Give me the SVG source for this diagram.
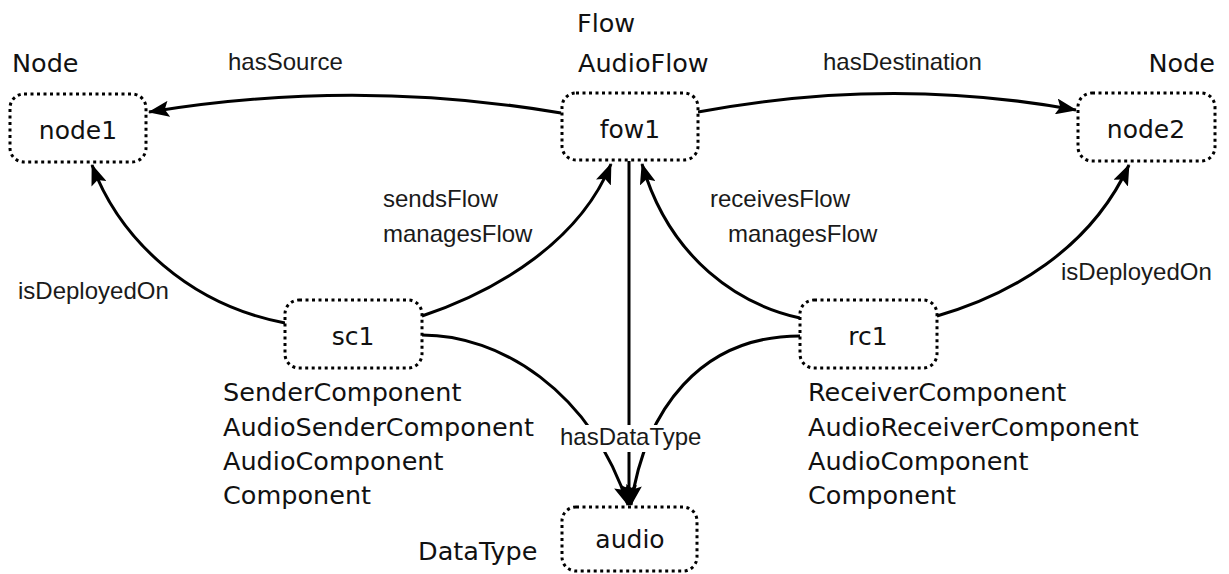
<svg xmlns="http://www.w3.org/2000/svg" width="1229" height="574" viewBox="0 0 1229 574">
<style>
.box{fill:#fff;stroke:#000;stroke-width:3;stroke-dasharray:3 3.5}
.nt{font-family:"DejaVu Sans",Verdana,sans-serif;font-size:25px;fill:#111;text-anchor:middle}
.cl{font-family:"DejaVu Sans",Verdana,sans-serif;font-size:25.5px;fill:#111}
.el{font-family:"Liberation Sans",Arial,sans-serif;font-size:24px;fill:#1a1a1a}
.edge{fill:none;stroke:#000;stroke-width:3}
.arr{marker-end:url(#ah)}
</style>
<defs>
<marker id="ah" markerWidth="22" markerHeight="16" refX="20" refY="8" orient="auto" markerUnits="userSpaceOnUse">
<path d="M0,0 L21,8 L0,16 L4,8 z" fill="#000"/>
</marker>
</defs>
<rect width="1229" height="574" fill="#fff"/>
<g id="connectors">
<path class="edge arr" d="M561,113 Q355,78 149,112"/>
<path class="edge arr" d="M698,112 Q890,76 1076,110"/>
<path class="edge arr" d="M285,323 C190,305 120,240 92,165"/>
<path class="edge arr" d="M422,316 C500,290 580,240 611,164"/>
<path class="edge arr" d="M800,318 C740,305 670,260 642,164"/>
<path class="edge arr" d="M937,316 C1010,295 1090,250 1129,165"/>
<path class="edge arr" d="M629,161 L629,505"/>
<path class="edge arr" d="M422,335 C500,335 590,390 628,505"/>
<path class="edge arr" d="M800,336 C700,336 645,410 631,505"/>
<rect x="557" y="425" width="151" height="27" fill="#fff"/>
<text class="el" x="560" y="445">hasDataType</text>
<text class="el" x="228" y="70">hasSource</text>
<text class="el" x="823" y="70">hasDestination</text>
<text class="el" x="383" y="207">sendsFlow</text>
<text class="el" x="383" y="242">managesFlow</text>
<text class="el" x="710" y="207">receivesFlow</text>
<text class="el" x="728" y="242">managesFlow</text>
<text class="el" x="18" y="299">isDeployedOn</text>
<text class="el" x="1061" y="280">isDeployedOn</text>
</g>
<g id="node1">
<text class="cl" x="12" y="72">Node</text>
<rect class="box" x="10" y="94" width="136" height="68" rx="14"/>
<text class="nt" x="78" y="139">node1</text>
</g>
<g id="fow1">
<text class="cl" x="577" y="32">Flow</text>
<text class="cl" x="578" y="72">AudioFlow</text>
<rect class="box" x="562" y="93" width="136" height="67" rx="14"/>
<text class="nt" x="630" y="138">fow1</text>
</g>
<g id="node2">
<text class="cl" x="1215" y="72" text-anchor="end">Node</text>
<rect class="box" x="1078" y="93" width="137" height="68" rx="14"/>
<text class="nt" x="1146" y="138">node2</text>
</g>
<g id="sc1">
<rect class="box" x="285" y="300" width="137" height="68" rx="14"/>
<text class="nt" x="353" y="345">sc1</text>
<text class="cl" x="223" y="401">SenderComponent</text>
<text class="cl" x="223" y="436">AudioSenderComponent</text>
<text class="cl" x="223" y="470">AudioComponent</text>
<text class="cl" x="223" y="504">Component</text>
</g>
<g id="rc1">
<rect class="box" x="800" y="300" width="137" height="68" rx="14"/>
<text class="nt" x="868" y="345">rc1</text>
<text class="cl" x="808" y="401">ReceiverComponent</text>
<text class="cl" x="808" y="436">AudioReceiverComponent</text>
<text class="cl" x="808" y="470">AudioComponent</text>
<text class="cl" x="808" y="504">Component</text>
</g>
<g id="audio">
<text class="cl" x="418" y="560">DataType</text>
<rect class="box" x="562" y="507" width="135" height="64" rx="14"/>
<text class="nt" x="630" y="548">audio</text>
</g>
</svg>
